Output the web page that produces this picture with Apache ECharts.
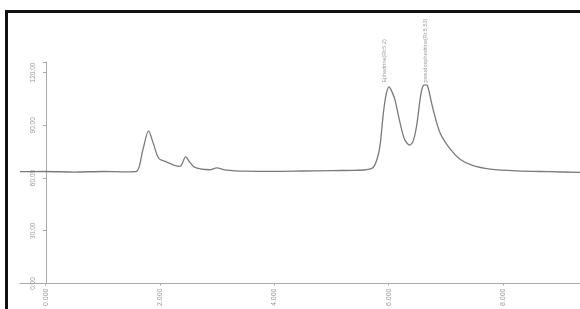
<!DOCTYPE html>
<html>
<head>
<meta charset="utf-8">
<script src="https://cdn.jsdelivr.net/npm/echarts@6/dist/echarts.min.js"></script>
<style>
  html, body { margin: 0; padding: 0; background: #fff; }
  .wrap { position: relative; width: 580px; height: 309px; overflow: hidden; }
  .frame {
    position: absolute; left: 5px; top: 10px; width: 600px; height: 320px;
    border-left: 3px solid #111; border-top: 3px solid #111;
    pointer-events: none;
  }
  #chart { position: absolute; left: 0; top: 0; width: 580px; height: 309px; }
</style>
</head>
<body>
<div class="wrap">
  <div id="chart"></div>
  <div class="frame"></div>
</div>
<script>
// retention time (min) and detector response
const times = [-0.45, 0.0, 0.5, 1.0, 1.4, 1.59, 1.70, 1.80, 1.88, 1.98, 2.11, 2.25, 2.35, 2.45, 2.52, 2.61,
  2.87, 2.99, 3.16, 3.5, 4.0, 4.5, 5.0, 5.4, 5.6, 5.73, 5.80, 5.85, 5.91, 5.96, 6.01, 6.06, 6.11, 6.20,
  6.28, 6.37, 6.43, 6.49, 6.56, 6.60, 6.64, 6.68, 6.78, 6.90, 7.08, 7.25, 7.48, 7.78, 8.24, 8.8, 9.35]
const signal = [63.6, 63.7, 63.4, 63.7, 63.5, 63.8, 76, 86.8, 80, 71.1, 69.2, 67.2, 66.6, 72.0, 69, 66.0,
  64.7, 65.8, 64.5, 63.9, 63.8, 64.0, 64.2, 64.4, 64.7, 66.0, 71, 78.3, 97.2, 108, 111.9, 109, 104.7, 91.5,
  82, 78.7, 81, 89.6, 106.6, 112.2, 113, 112.6, 99.0, 85.8, 76.4, 70.7, 67.0, 65.1, 64.1, 63.6, 63.2]

const xTicks = [0, 2, 4, 6, 8]
const peakNames = ['Ephedrine(Rt:5.2)', 'pseudoephedrine(Rt:5.53)']
const peakTimes = [5.93, 6.65]
const peakLabelY = [114.3, 114.3]

const chart = echarts.init(document.getElementById('chart'))

const option = {
  animation: false,
  grid: { left: 20, right: 0, top: 62, bottom: 24 },
  xAxis: {
    type: 'value',
    min: -0.45,
    max: 9.35,
    splitLine: { show: false },
    axisLine: { lineStyle: { color: '#aaa', width: 1 } },
    axisTick: { customValues: xTicks, length: 2, lineStyle: { color: '#aaa' } },
    axisLabel: {
      customValues: xTicks,
      rotate: 90,
      margin: 5,
      fontSize: 7,
      fontFamily: 'Liberation Sans',
      color: '#999',
      formatter: v => v.toFixed(3)
    }
  },
  yAxis: {
    type: 'value',
    min: 0,
    max: 126,
    interval: 30,
    offset: -26,
    splitLine: { show: false },
    axisLine: { onZero: false, lineStyle: { color: '#aaa', width: 1 } },
    axisTick: { length: 3, lineStyle: { color: '#aaa' } },
    axisLabel: {
      rotate: 90,
      margin: 9,
      fontSize: 6.5,
      fontFamily: 'Liberation Sans',
      color: '#999',
      formatter: v => (v % 30 === 0 ? v.toFixed(2) : '')
    }
  },
  series: [
    {
      type: 'line',
      data: times.map((t, i) => [t, signal[i]]),
      symbol: 'none',
      smooth: 0.3,
      lineStyle: { color: '#7a7a7a', width: 1.3 }
    },
    {
      type: 'scatter',
      symbolSize: 0,
      data: peakTimes.map((t, i) => ({ value: [t, peakLabelY[i]], name: peakNames[i] })),
      label: {
        show: true,
        position: 'inside',
        rotate: 90,
        align: 'left',
        verticalAlign: 'middle',
        fontSize: 5.5,
        fontFamily: 'Liberation Sans',
        color: '#888',
        formatter: p => p.name
      }
    }
  ]
}

chart.setOption(option)
</script>
</body>
</html>
